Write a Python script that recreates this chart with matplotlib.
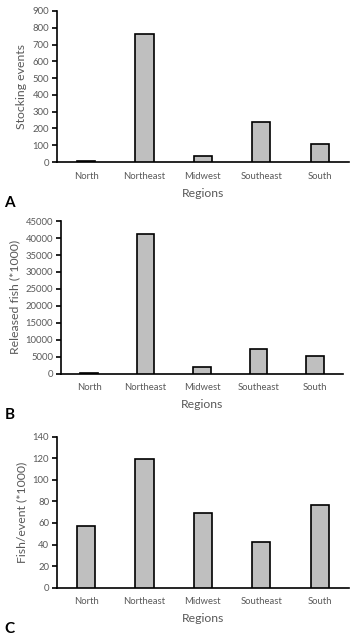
import matplotlib
matplotlib.use("Agg")
import matplotlib.pyplot as plt

regions = ["North", "Northeast", "Midwest", "Southeast", "South"]
stocking_events = [7, 765, 36, 238, 105]
released_fish = [200, 41300, 1800, 7400, 5300]
fish_per_event = [57.5, 119.5, 69.5, 42.5, 77]

plt.rcParams["font.family"] = ["Lato", "DejaVu Sans"]
grey = "#595959"

fig = plt.figure(figsize=(3.6, 6.43), dpi=100)

# left, bottom, width, height (figure fraction), values, ymax, ystep, ylabel, letter
panels = [
    ([0.158, 0.748, 0.811, 0.235], stocking_events, 900, 100, "Stocking events", "A"),
    ([0.169, 0.419, 0.784, 0.237], released_fish, 45000, 5000, "Released fish (*1000)", "B"),
    ([0.158, 0.086, 0.811, 0.235], fish_per_event, 140, 20, "Fish/event (*1000)", "C"),
]

for rect, vals, ymax, step, ylab, letter in panels:
    ax = fig.add_axes(rect)
    ax.bar(range(len(regions)), vals, width=0.31, color="#BFBFBF",
           edgecolor="black", linewidth=1.2, zorder=3)
    ax.set_xlim(-0.5, len(regions) - 0.5)
    ax.set_ylim(0, ymax)
    ax.set_yticks(range(0, ymax + 1, step))
    ax.set_xticks(range(len(regions)))
    ax.set_xticklabels(regions)
    for s in ["top", "right"]:
        ax.spines[s].set_visible(False)
    ax.spines["left"].set_linewidth(1.2)
    ax.spines["bottom"].set_linewidth(1.2)
    ax.tick_params(axis="y", direction="out", length=3.5, width=1.2,
                   labelsize=6.8, labelcolor=grey, pad=2)
    ax.tick_params(axis="x", length=0, labelsize=6.8, labelcolor=grey, pad=7)
    ax.set_ylabel(ylab, fontsize=8.8, color=grey)
    ax.set_xlabel("Regions", fontsize=8.8, color=grey, labelpad=5)
    b = rect[1]
    fig.text(0.012, b - 0.064, letter, fontsize=11, fontweight="bold",
             ha="left", va="center")

fig.savefig("out.png", dpi=100)
